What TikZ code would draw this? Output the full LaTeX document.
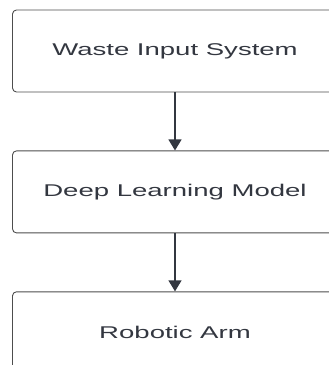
\documentclass[tikz,border=0pt]{standalone}
\usepackage{fontspec}
\setmainfont{Liberation Sans}[FakeStretch=1.62]
\usepackage{xcolor}
\usetikzlibrary{arrows.meta, positioning}

\definecolor{boxline}{HTML}{4D4D4D}
\definecolor{ink}{HTML}{333740}

\begin{document}
\begin{tikzpicture}[
    x=1pt, y=1pt,
    node distance=58pt,
    stage/.style={rectangle, draw=boxline, line width=0.9pt, fill=white, rounded corners=4pt, minimum width=325pt, minimum height=82pt, text=ink, font=\fontsize{17}{20}\selectfont},
    arrow/.style={-{Triangle[length=11pt, width=13pt]}, line width=1.3pt, color=ink}
]
    \useasboundingbox (0,0) rectangle (329,-365);
    \clip (0,0) rectangle (329,-365);

    \node (input) [stage] at (175,-51) {Waste Input System};
    \node (model) [stage, below=of input] {Deep Learning Model};
    \node (arm) [stage, below=of model] {Robotic Arm};

    \draw [arrow] (input) -- (model);
    \draw [arrow] (model) -- (arm);
\end{tikzpicture}
\end{document}
